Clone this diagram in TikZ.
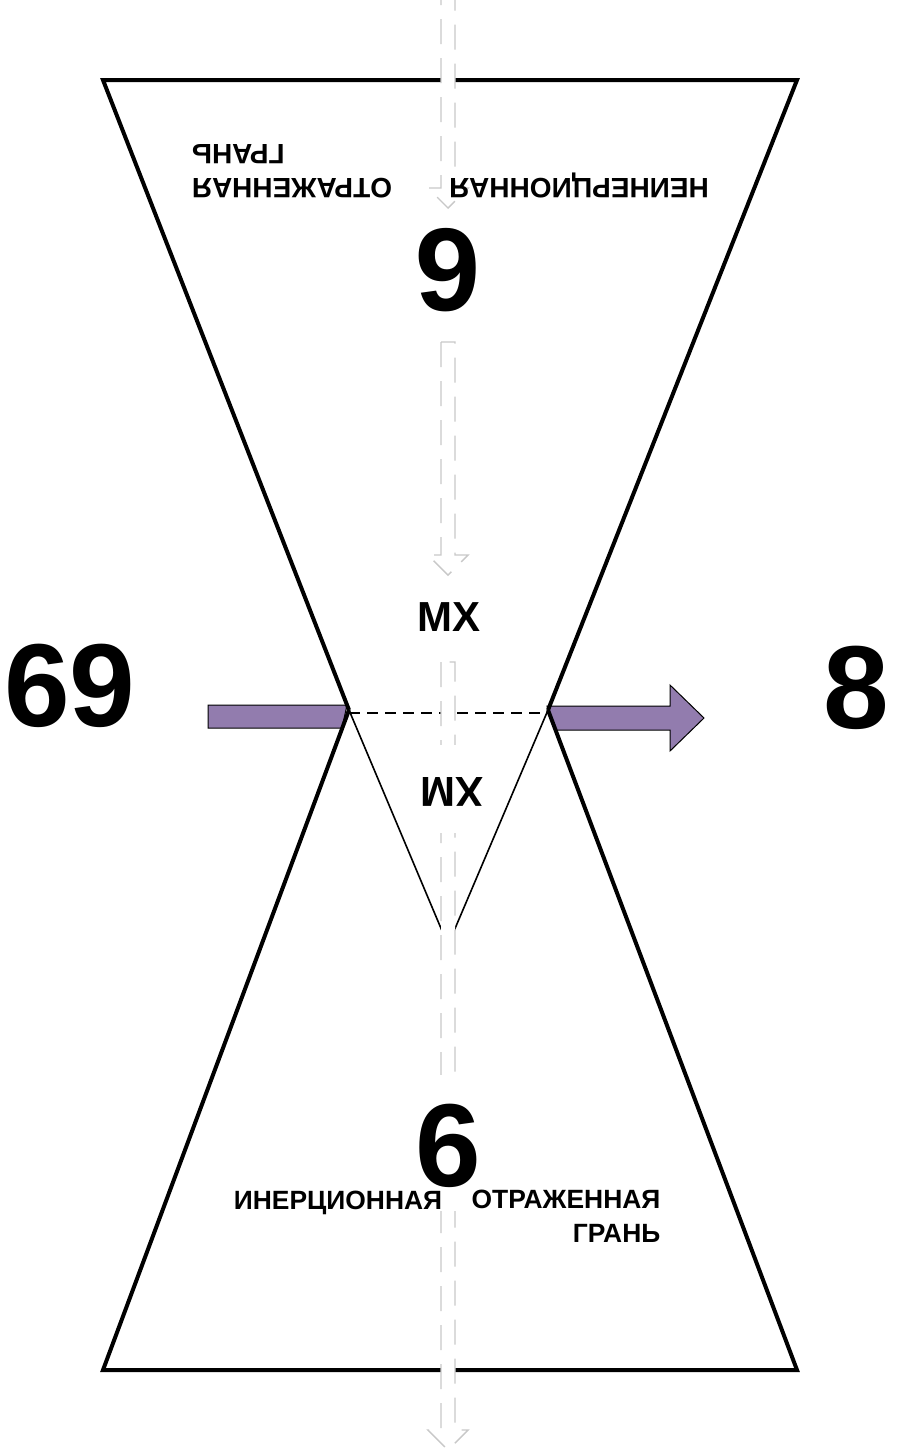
\documentclass[tikz,border=0pt]{standalone}
\usepackage{fontspec}
\setmainfont{Liberation Sans}
\definecolor{arrowpurple}{RGB}{146,124,174}
\definecolor{flowgray}{RGB}{200,200,200}
\begin{document}
\begin{tikzpicture}[x=0.5pt,y=-0.5pt,
  hg/.style={line width=2pt, line join=miter},
  thinline/.style={line width=0.8pt},
  waist/.style={line width=0.6pt, dash pattern=on 5.5pt off 3.5pt},
  flow/.style={draw=flowgray, line width=0.7pt, fill=white, dash pattern=on 12.5pt off 7pt},
  purp/.style={fill=arrowpurple, draw=black, line width=0.5pt},
  big/.style={font=\fontsize{59}{60}\selectfont\bfseries, inner sep=0pt},
  mid/.style={font=\fontsize{21}{24}\selectfont\bfseries, inner sep=0pt},
  small/.style={font=\fontsize{13.2}{17}\selectfont\bfseries, inner sep=0pt},
  smalltop/.style={font=\fontsize{14}{17}\selectfont\bfseries, inner sep=0pt},
]
\clip (0,0) rectangle (897,1448);
\fill[white] (0,0) rectangle (897,1448);
% hourglass corners
\coordinate (TL) at (103,80);
\coordinate (TR) at (797,80);
\coordinate (WL) at (349,710);
\coordinate (WR) at (548,710);
\coordinate (BL) at (103,1370);
\coordinate (BR) at (797,1370);
\coordinate (V) at (448,945);
% purple arrows
\draw[purp] (208,705) -- (347,705) -- (342,728) -- (208,728) -- cycle;
\draw[purp] (547,706) -- (670,706) -- (670,685) -- (704,718) -- (670,751) -- (670,730) -- (555,730) -- cycle;
% hourglass
\draw[hg] (WL) -- (TL) -- (TR) -- (WR);
\draw[hg] (WL) -- (BL) -- (BR) -- (WR);
% inner triangle
\draw[thinline] (WL) -- (V) -- (WR);
\draw[waist] (349,713) -- (548,713);
% dashed flow arrows
\draw[flow] (441,-20) -- (441,188) -- (428,188) -- (448,208) -- (468,188) -- (455,188) -- (455,-20) -- cycle;
\draw[flow] (441,342) -- (441,555) -- (428,555) -- (448,575) -- (468,555) -- (455,555) -- (455,342) -- cycle;
\draw[flow] (441,662) -- (441,1430) -- (428,1430) -- (448,1450) -- (468,1430) -- (455,1430) -- (455,662) -- cycle;
% white patches where labels hide the flow arrow
\fill[white] (438,1075) rectangle (458,1211);
\fill[white] (438,745) rectangle (458,833);
% labels
\node[big] (six) at (448,1146) {6};
\node[big, rotate=180] (nine) at (448,270) {6};
\node[mid] (mxup) at (449,617) {МХ};
\node[mid, yscale=-1] (mxdown) at (452,792) {МХ};
\node[big] (sixtynine) at (70,686) {69};
\node[big] (eight) at (856,688) {8};
\node[small, anchor=base] (inert) at (338,1209) {ИНЕРЦИОННАЯ};
\node[small, align=right] (refl) at (566,1216) {ОТРАЖЕННАЯ\\ГРАНЬ};
\node[smalltop, rotate=180, anchor=base] (noninert) at (579,178) {НЕИНЕРЦИОННАЯ};
\node[smalltop, rotate=180, align=right] (reflup) at (292,171) {ОТРАЖЕННАЯ\\ГРАНЬ};
\end{tikzpicture}
\end{document}
